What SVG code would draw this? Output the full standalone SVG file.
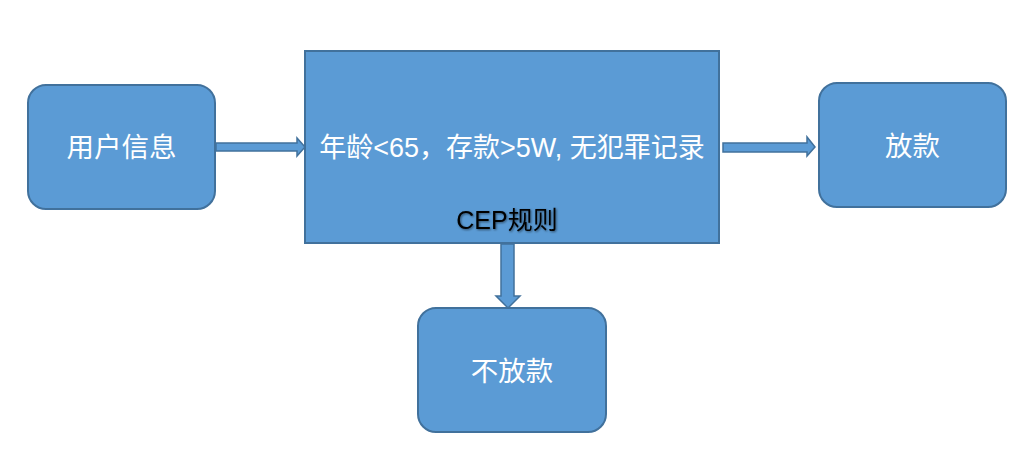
<svg xmlns="http://www.w3.org/2000/svg" width="1032" height="461" viewBox="0 0 1032 461">
<style>
.box{fill:#5b9bd5;stroke:#41719c;stroke-width:2}
.arr{fill:#5b9bd5;stroke:#41719c;stroke-width:1.5}
.lbl{font-family:"Liberation Sans","Noto Sans CJK SC",sans-serif;font-size:27.5px;fill:#ffffff;text-anchor:middle}
.main{font-size:27px}
.cep{font-family:"Liberation Sans","Noto Sans CJK SC",sans-serif;font-size:25px;fill:#000000;text-anchor:middle}
</style>
<defs>
<filter id="sh" x="-10%" y="-30%" width="130%" height="160%"><feDropShadow dx="1" dy="1" stdDeviation="1" flood-color="#000" flood-opacity="0.5"/></filter>
</defs>
<rect width="1032" height="461" fill="#ffffff"/>
<g id="user">
<rect class="box" x="28" y="85" width="187" height="124" rx="18"/>
<text class="lbl" x="121.5" y="157">用户信息</text>
</g>
<g id="rule">
<rect x="305" y="51" width="414" height="192" fill="#5b9bd5" stroke="#41719c" stroke-width="2"/>
<text class="lbl main" x="512" y="157">年龄&lt;65，存款&gt;5W, 无犯罪记录</text>
<text class="cep" x="507" y="229" filter="url(#sh)">CEP规则</text>
</g>
<g id="loan">
<rect class="box" x="819" y="83" width="187" height="124" rx="18"/>
<text class="lbl" x="912.5" y="156">放款</text>
</g>
<g id="noloan">
<rect class="box" x="418" y="308" width="188" height="124" rx="18"/>
<text class="lbl" x="512" y="381">不放款</text>
</g>
<g id="connectors">
<path class="arr" d="M216,143 L297,143 L297,138 L305,147 L297,156 L297,151 L216,151 Z"/>
<path class="arr" d="M723,143 L807,143 L807,137 L815,147 L807,156 L807,152 L723,152 Z"/>
<path class="arr" d="M501,244 L514,244 L514,296 L520,296 L508,308 L496,296 L501,296 Z"/>
</g>
</svg>
